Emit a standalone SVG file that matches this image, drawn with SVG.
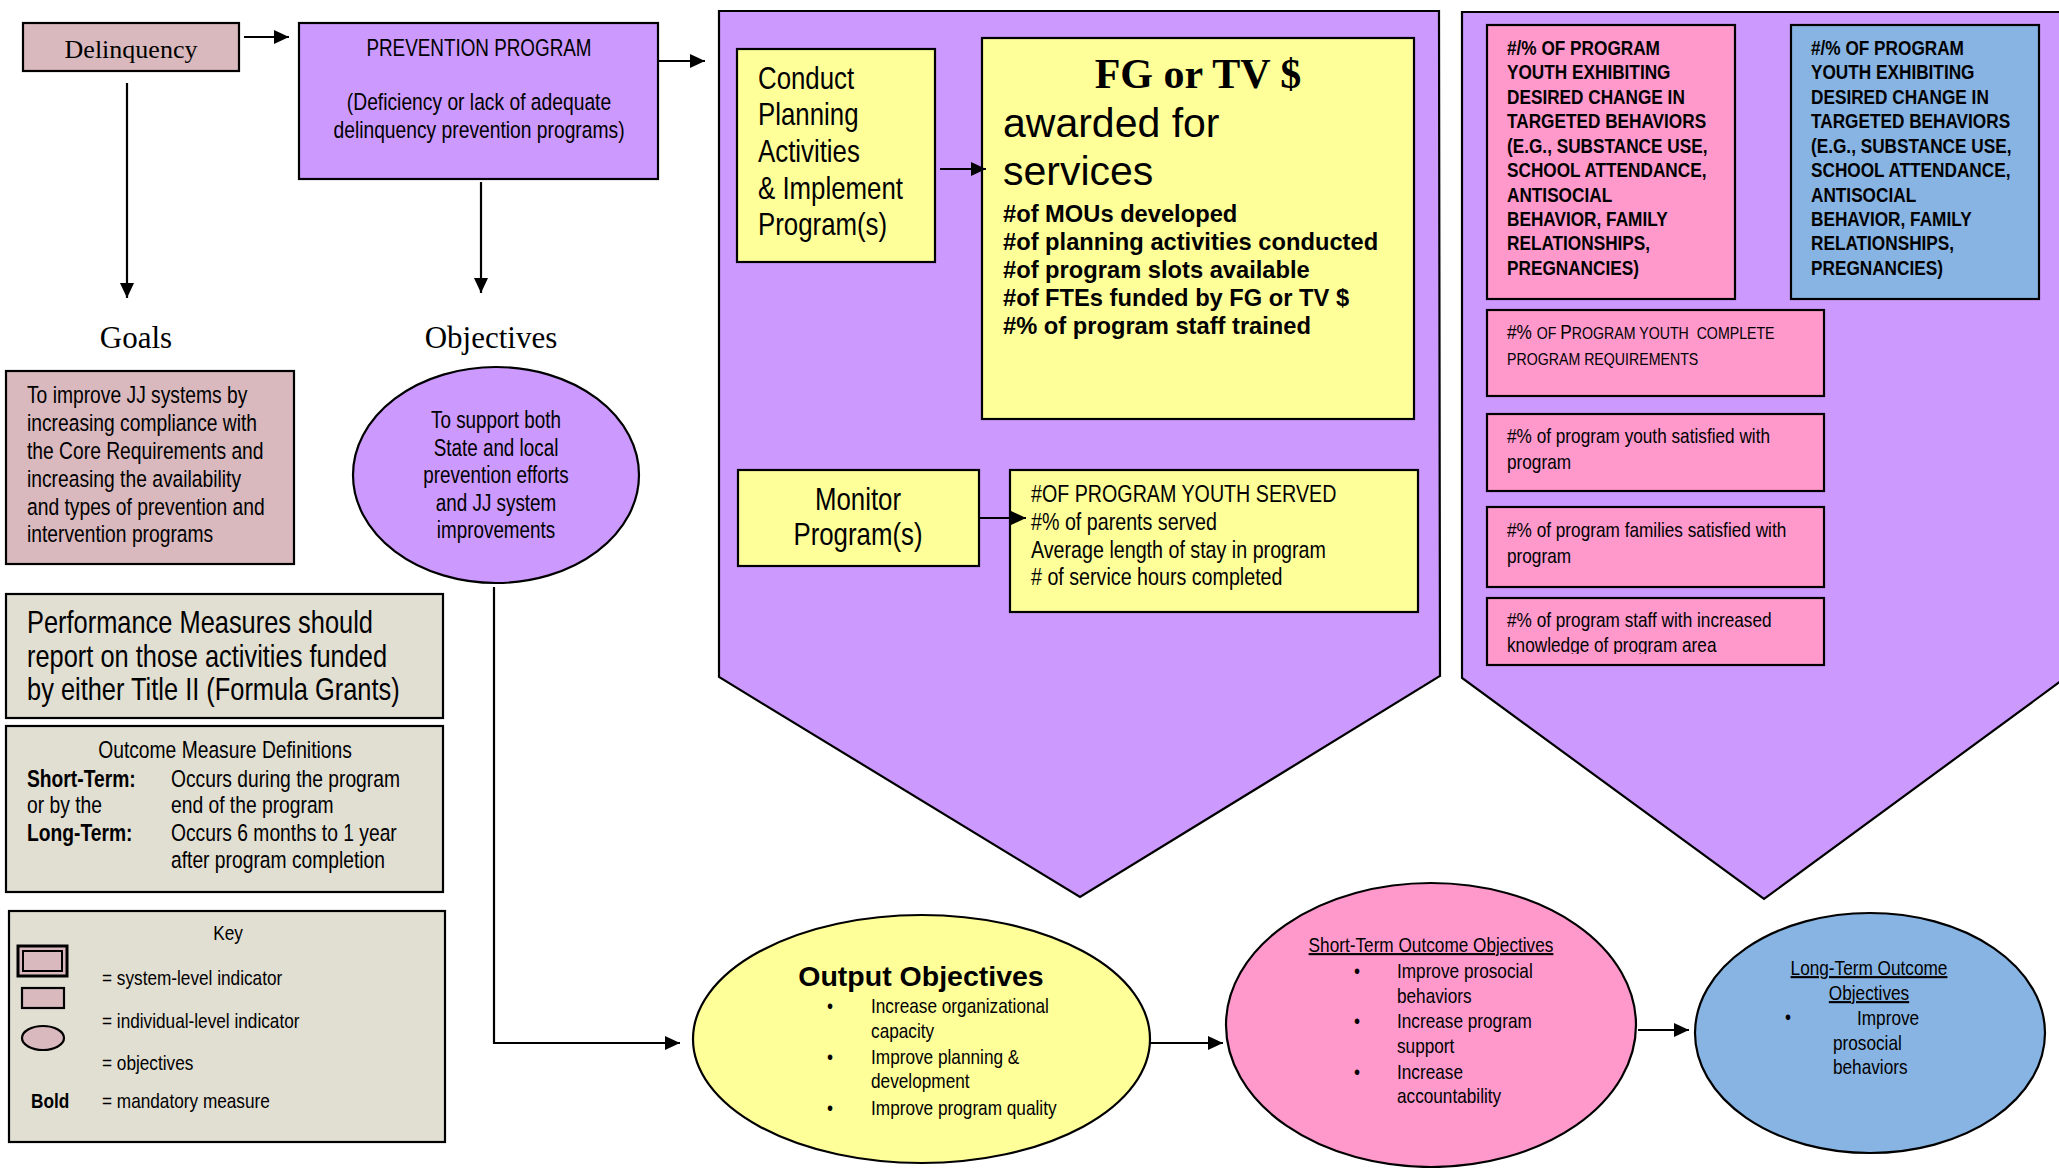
<svg xmlns="http://www.w3.org/2000/svg" width="2059" height="1168" viewBox="0 0 2059 1168">
<style>
  .bx{stroke:#000;stroke-width:2.2}
  .mauve{fill:#D9B9BD}
  .purple{fill:#CC99FF}
  .yellow{fill:#FFFF99}
  .pink{fill:#FF99CC}
  .blue{fill:#87B4E3}
  .beige{fill:#E1DED2}
  .n{font-family:"Liberation Sans",Arial,sans-serif;fill:#000}
  .s{font-family:"Liberation Sans",Arial,sans-serif;fill:#000}
  .t{font-family:"Liberation Serif","Times New Roman",serif;fill:#000}
  .b{font-weight:bold}
  .c{text-anchor:middle}
  .sc{font-size:17.3px}
  .conn{fill:none;stroke:#000;stroke-width:2.2}
</style>
<defs>
  <marker id="ah" markerUnits="userSpaceOnUse" markerWidth="16" markerHeight="14" refX="15" refY="7" orient="auto">
    <path d="M0,0 L15,7 L0,14 z" fill="#000"/>
  </marker>
  <clipPath id="clipStaff"><rect x="1487" y="598" width="337" height="56"/></clipPath>
</defs>
<rect width="2059" height="1168" fill="#fff"/>

<g id="panel-outputs">
  <polygon class="purple bx" points="719,11 1439,11 1440,676 1080,897 719,677"/>
</g>
<g id="panel-outcomes">
  <polygon class="purple bx" points="1462,12 2080,12 2080,667 1764,899 1462,678"/>
</g>

<g id="delinquency">
  <rect class="mauve bx" x="23" y="23" width="216" height="48"/>
  <text class="t c" x="131" y="58" font-size="26">Delinquency</text>
</g>

<g id="prevention">
  <rect class="purple bx" x="299" y="23" width="359" height="156"/>
  <g class="n c" transform="translate(479 0) scale(0.82 1)">
    <text x="0" y="56" font-size="23">PREVENTION PROGRAM</text>
    <text x="0" y="110" font-size="23.5">(Deficiency or lack of adequate</text>
    <text x="0" y="138" font-size="23.5">delinquency prevention programs)</text>
  </g>
</g>

<g id="goals-label"><text class="t c" x="136" y="348" font-size="31">Goals</text></g>
<g id="objectives-label"><text class="t c" x="491" y="348" font-size="31">Objectives</text></g>

<g id="goals">
  <rect class="mauve bx" x="6" y="371" width="288" height="193"/>
  <g class="n" font-size="23.5" transform="translate(27 0) scale(0.82 1)">
    <text x="0" y="403">To improve JJ systems by</text>
    <text x="0" y="431">increasing compliance with</text>
    <text x="0" y="459">the Core Requirements and</text>
    <text x="0" y="487">increasing the availability</text>
    <text x="0" y="515">and types of prevention and</text>
    <text x="0" y="542">intervention programs</text>
  </g>
</g>

<g id="objectives">
  <ellipse class="purple bx" cx="496" cy="475" rx="143" ry="108"/>
  <g class="n c" font-size="23" transform="translate(496 0) scale(0.82 1)">
    <text x="0" y="428">To support both</text>
    <text x="0" y="456">State and local</text>
    <text x="0" y="483">prevention efforts</text>
    <text x="0" y="511">and JJ system</text>
    <text x="0" y="538">improvements</text>
  </g>
</g>

<g id="performance-note">
  <rect class="beige bx" x="6" y="594" width="437" height="124"/>
  <g class="n" font-size="31" transform="translate(27 0) scale(0.82 1)">
    <text x="0" y="633">Performance Measures should</text>
    <text x="0" y="667">report on those activities funded</text>
    <text x="0" y="700">by either Title II (Formula Grants)</text>
  </g>
</g>

<g id="outcome-definitions">
  <rect class="beige bx" x="6" y="726" width="437" height="166"/>
  <g class="n c" font-size="23.5" transform="translate(225 0) scale(0.82 1)">
    <text x="0" y="758">Outcome Measure Definitions</text>
  </g>
  <g class="n" font-size="23.5" transform="translate(27 0) scale(0.82 1)">
    <text class="b" x="0" y="787">Short-Term:</text>
    <text x="175.6" y="787">Occurs during the program</text>
    <text x="0" y="813">or by the</text>
    <text x="175.6" y="813">end of the program</text>
    <text class="b" x="0" y="841">Long-Term:</text>
    <text x="175.6" y="841">Occurs 6 months to 1 year</text>
    <text x="175.6" y="868">after program completion</text>
  </g>
</g>

<g id="key">
  <rect class="beige bx" x="9" y="911" width="436" height="231"/>
  <rect class="mauve" x="18" y="946" width="49" height="30" stroke="#000" stroke-width="3"/>
  <rect fill="none" x="23" y="951" width="39" height="20" stroke="#000" stroke-width="2"/>
  <rect class="mauve bx" x="22" y="988" width="42" height="20" stroke-width="1.8"/>
  <ellipse class="mauve bx" cx="43" cy="1038" rx="21" ry="12" stroke-width="1.8"/>
  <g class="n c" font-size="21" transform="translate(228 0) scale(0.82 1)">
    <text x="0" y="940">Key</text>
  </g>
  <g class="n" font-size="21" transform="translate(102 0) scale(0.82 1)">
    <text x="0" y="985">= system-level indicator</text>
    <text x="0" y="1028">= individual-level indicator</text>
    <text x="0" y="1070">= objectives</text>
    <text class="b" x="-86.6" y="1108">Bold</text>
    <text x="0" y="1108">= mandatory measure</text>
  </g>
</g>

<g id="conduct">
  <rect class="yellow bx" x="737" y="49" width="198" height="213"/>
  <g class="n" font-size="31.5" transform="translate(758 0) scale(0.82 1)">
    <text x="0" y="89">Conduct</text>
    <text x="0" y="125">Planning</text>
    <text x="0" y="162">Activities</text>
    <text x="0" y="199">&amp; Implement</text>
    <text x="0" y="235">Program(s)</text>
  </g>
</g>

<g id="funding">
  <rect class="yellow bx" x="982" y="38" width="432" height="381"/>
  <text class="t b c" x="1198" y="88" font-size="42">FG or TV $</text>
  <text class="s" x="1003" y="137" font-size="41">awarded for</text>
  <text class="s" x="1003" y="185" font-size="41">services</text>
  <g class="s b" font-size="23.7">
    <text x="1003" y="222">#of MOUs developed</text>
    <text x="1003" y="250">#of planning activities conducted</text>
    <text x="1003" y="278">#of program slots available</text>
    <text x="1003" y="306">#of FTEs funded by FG or TV $</text>
    <text x="1003" y="334">#% of program staff trained</text>
  </g>
</g>

<g id="monitor">
  <rect class="yellow bx" x="738" y="470" width="241" height="96"/>
  <g class="n c" font-size="31.5" transform="translate(858 0) scale(0.82 1)">
    <text x="0" y="510">Monitor</text>
    <text x="0" y="545">Program(s)</text>
  </g>
</g>

<g id="served">
  <rect class="yellow bx" x="1010" y="470" width="408" height="142"/>
  <g class="n" font-size="24" transform="translate(1031 0) scale(0.82 1)">
    <text x="0" y="502">#OF PROGRAM YOUTH SERVED</text>
    <text x="0" y="530">#% of parents served</text>
    <text x="0" y="558">Average length of stay in program</text>
    <text x="0" y="585" xml:space="preserve"># of service hours completed</text>
  </g>
</g>

<g id="short-term-behaviors">
  <rect class="pink bx" x="1487" y="25" width="248" height="274"/>
  <g class="n b" font-size="21" transform="translate(1507 0) scale(0.82 1)">
    <text x="0" y="55">#/% OF PROGRAM</text>
    <text x="0" y="79">YOUTH EXHIBITING</text>
    <text x="0" y="104">DESIRED CHANGE IN</text>
    <text x="0" y="128">TARGETED BEHAVIORS</text>
    <text x="0" y="153">(E.G., SUBSTANCE USE,</text>
    <text x="0" y="177">SCHOOL ATTENDANCE,</text>
    <text x="0" y="202">ANTISOCIAL</text>
    <text x="0" y="226">BEHAVIOR, FAMILY</text>
    <text x="0" y="250">RELATIONSHIPS,</text>
    <text x="0" y="275">PREGNANCIES)</text>
  </g>
</g>

<g id="long-term-behaviors">
  <rect class="blue bx" x="1791" y="25" width="248" height="274"/>
  <g class="n b" font-size="21" transform="translate(1811 0) scale(0.82 1)">
    <text x="0" y="55">#/% OF PROGRAM</text>
    <text x="0" y="79">YOUTH EXHIBITING</text>
    <text x="0" y="104">DESIRED CHANGE IN</text>
    <text x="0" y="128">TARGETED BEHAVIORS</text>
    <text x="0" y="153">(E.G., SUBSTANCE USE,</text>
    <text x="0" y="177">SCHOOL ATTENDANCE,</text>
    <text x="0" y="202">ANTISOCIAL</text>
    <text x="0" y="226">BEHAVIOR, FAMILY</text>
    <text x="0" y="250">RELATIONSHIPS,</text>
    <text x="0" y="275">PREGNANCIES)</text>
  </g>
</g>

<g id="complete-requirements">
  <rect class="pink bx" x="1487" y="310" width="337" height="86"/>
  <g class="n" font-size="21" transform="translate(1507 0) scale(0.82 1)">
    <text x="0" y="339" xml:space="preserve">#% <tspan class="sc">OF </tspan>P<tspan class="sc">ROGRAM YOUTH  COMPLETE</tspan></text>
    <text x="0" y="365"><tspan class="sc">PROGRAM REQUIREMENTS</tspan></text>
  </g>
</g>

<g id="youth-satisfied">
  <rect class="pink bx" x="1487" y="414" width="337" height="77"/>
  <g class="n" font-size="21" transform="translate(1507 0) scale(0.82 1)">
    <text x="0" y="443">#% of program youth satisfied with</text>
    <text x="0" y="469">program</text>
  </g>
</g>

<g id="families-satisfied">
  <rect class="pink bx" x="1487" y="507" width="337" height="80"/>
  <g class="n" font-size="21" transform="translate(1507 0) scale(0.82 1)">
    <text x="0" y="537">#% of program families satisfied with</text>
    <text x="0" y="563">program</text>
  </g>
</g>

<g id="staff-knowledge">
  <rect class="pink bx" x="1487" y="598" width="337" height="67"/>
  <g clip-path="url(#clipStaff)">
    <g class="n" font-size="21" transform="translate(1507 0) scale(0.82 1)">
      <text x="0" y="627">#% of program staff with increased</text>
      <text x="0" y="652">knowledge of program area</text>
    </g>
  </g>
</g>

<g id="output-objectives">
  <ellipse class="yellow bx" cx="921.5" cy="1039" rx="228.5" ry="124"/>
  <text class="s b c" x="921" y="986" font-size="28.5">Output Objectives</text>
  <g class="n" font-size="21" transform="translate(827 0) scale(0.82 1)">
    <text x="0" y="1013">•</text><text x="53.7" y="1013">Increase organizational</text>
    <text x="53.7" y="1038">capacity</text>
    <text x="0" y="1064">•</text><text x="53.7" y="1064">Improve planning &amp;</text>
    <text x="53.7" y="1088">development</text>
    <text x="0" y="1115">•</text><text x="53.7" y="1115">Improve program quality</text>
  </g>
</g>

<g id="short-term-objectives">
  <ellipse class="pink bx" cx="1431" cy="1025" rx="205" ry="142"/>
  <g class="n c" font-size="21" transform="translate(1431 0) scale(0.82 1)">
    <text x="0" y="952" text-decoration="underline">Short-Term Outcome Objectives</text>
  </g>
  <g class="n" font-size="21" transform="translate(1354 0) scale(0.82 1)">
    <text x="0" y="978">•</text><text x="52.4" y="978">Improve prosocial</text>
    <text x="52.4" y="1003">behaviors</text>
    <text x="0" y="1028">•</text><text x="52.4" y="1028">Increase program</text>
    <text x="52.4" y="1053">support</text>
    <text x="0" y="1079">•</text><text x="52.4" y="1079">Increase</text>
    <text x="52.4" y="1103">accountability</text>
  </g>
</g>

<g id="long-term-objectives">
  <ellipse class="blue bx" cx="1870" cy="1033" rx="175" ry="120"/>
  <g class="n c" font-size="21" transform="translate(1869 0) scale(0.82 1)">
    <text x="0" y="975" text-decoration="underline">Long-Term Outcome</text>
    <text x="0" y="1000" text-decoration="underline">Objectives</text>
  </g>
  <g class="n" font-size="21" transform="translate(1785 0) scale(0.82 1)">
    <text x="0" y="1024">•</text><text x="87.8" y="1025">Improve</text>
    <text x="58.5" y="1050">prosocial</text>
    <text x="58.5" y="1074">behaviors</text>
  </g>
</g>

<g id="connectors">
  <path class="conn" d="M244,37 H289" marker-end="url(#ah)"/>
  <path class="conn" d="M659,61 H705" marker-end="url(#ah)"/>
  <path class="conn" d="M127,83 V298" marker-end="url(#ah)"/>
  <path class="conn" d="M481,182 V293" marker-end="url(#ah)"/>
  <path class="conn" d="M940,169 H986" marker-end="url(#ah)"/>
  <path class="conn" d="M979,518 H1026" marker-end="url(#ah)"/>
  <path class="conn" d="M494,587 V1043 H680" marker-end="url(#ah)"/>
  <path class="conn" d="M1150,1043 H1223" marker-end="url(#ah)"/>
  <path class="conn" d="M1638,1030 H1689" marker-end="url(#ah)"/>
</g>
</svg>
